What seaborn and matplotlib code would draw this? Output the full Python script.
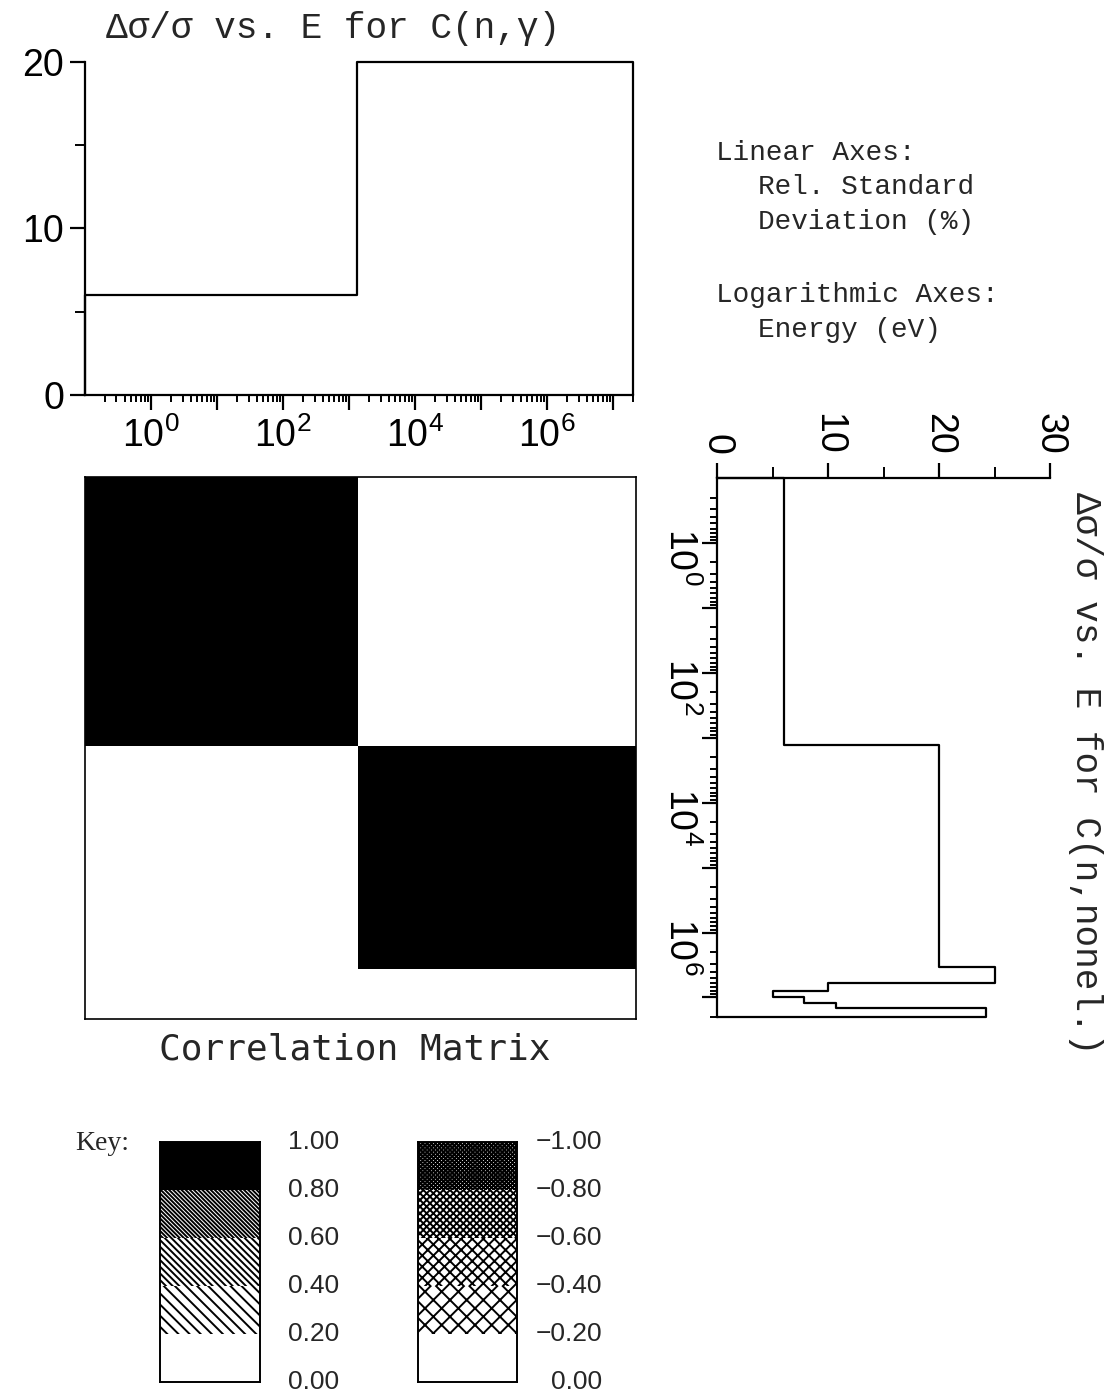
import numpy as np
import matplotlib
matplotlib.use("Agg")
import matplotlib.pyplot as plt
import matplotlib.ticker as mticker
from matplotlib.patches import Rectangle
import seaborn as sns

# ---------------------------------------------------------------------------
# Group structures (eV) and relative standard deviations (%)
# ---------------------------------------------------------------------------
ngam_edges = [0.1, 1.3e3, 2.0e7]
ngam_rsd = [6.0, 20.0]

nonel_edges = [0.1, 1.3e3, 3.4e6, 6.0e6, 8.0e6, 1.0e7, 1.2e7, 1.45e7, 2.0e7]
nonel_rsd = [6.0, 20.0, 25.0, 10.0, 5.0, 7.8, 10.7, 24.2]

# Correlation: rows = C(n,nonel.) groups, columns = C(n,gamma) groups
corr = [
    [1.0, 0.0],
    [0.0, 1.0],
    [0.0, 0.0],
    [0.0, 0.0],
    [0.0, 0.0],
    [0.0, 0.0],
    [0.0, 0.0],
    [0.0, 0.0],
]

# Shading key
key_levels = [0.0, 0.2, 0.4, 0.6, 0.8, 1.0]
pos_labels = ["0.00", "0.20", "0.40", "0.60", "0.80", "1.00"]
neg_labels = ["0.00", "\u22120.20", "\u22120.40", "\u22120.60", "\u22120.80", "\u22121.00"]

pos_styles = [("white", None), ("white", "\\" * 3), ("white", "\\" * 5),
              ("white", "\\" * 8), ("black", None)]
neg_styles = [("white", None), ("white", "xx"), ("white", "xxx"),
              ("white", "x" * 5), ("white", "x" * 8)]

sns.set_theme(style="ticks")
plt.rcParams.update({
    "font.family": ["Liberation Sans", "DejaVu Sans"],
    "mathtext.default": "regular",
    "hatch.linewidth": 1.4,
    "axes.linewidth": 1.6,
    "xtick.color": "black",
    "ytick.color": "black",
    "axes.edgecolor": "black",
})

W, H = 1113, 1397
fig = plt.figure(figsize=(W / 100, H / 100), dpi=100)
fig.patch.set_facecolor("white")


def box(l, t, r, b):
    return [l / W, 1 - b / H, (r - l) / W, (b - t) / H]


def outline(edges, vals):
    e = np.repeat(np.asarray(edges, float), 2)
    v = np.concatenate([[0.0], np.repeat(np.asarray(vals, float), 2), [0.0]])
    return e, v


def band_style(r):
    idx = min(int(abs(r) / 0.2 + 1e-9), 4)
    return pos_styles[idx] if r >= 0 else neg_styles[idx]


def log_label(x, pos):
    k = int(round(np.log10(x)))
    return r"$\mathdefault{10^{%d}}$" % k if k % 2 == 0 else ""


e_min, e_max = ngam_edges[0], ngam_edges[-1]
majors = [10.0 ** k for k in range(0, 8)]
minors = [m * 10.0 ** k for k in range(-1, 8) for m in range(2, 10)
          if m * 10.0 ** k <= e_max * 1.0001]

mono = ["Liberation Mono", "DejaVu Sans Mono"]
TICK_FS = 27

# ---------------------------------------------------------------------------
# Top: C(n,gamma)
# ---------------------------------------------------------------------------
ax_t = fig.add_axes(box(85, 62, 633, 395))
x, y = outline(ngam_edges, ngam_rsd)
sns.lineplot(x=x, y=y, sort=False, estimator=None, color="black",
             linewidth=1.6, clip_on=False, ax=ax_t)
ax_t.set_xscale("log")
ax_t.set_xlim(e_min, e_max)
ax_t.set_ylim(0, 20)
for s in ("top", "right"):
    ax_t.spines[s].set_visible(False)
ax_t.xaxis.set_major_locator(mticker.FixedLocator(majors))
ax_t.xaxis.set_minor_locator(mticker.FixedLocator(minors))
ax_t.xaxis.set_major_formatter(mticker.FuncFormatter(log_label))
ax_t.xaxis.set_minor_formatter(mticker.NullFormatter())
ax_t.yaxis.set_major_locator(mticker.FixedLocator([0, 10, 20]))
ax_t.yaxis.set_minor_locator(mticker.FixedLocator([5, 15]))
ax_t.tick_params(axis="x", which="major", length=11, width=1.6, pad=5,
                 labelsize=TICK_FS, direction="out")
ax_t.tick_params(axis="x", which="minor", length=5, width=1.4, direction="out")
ax_t.tick_params(axis="y", which="major", length=11, width=1.6, pad=4,
                 labelsize=TICK_FS, direction="out")
ax_t.tick_params(axis="y", which="minor", length=7, width=1.4, direction="out")
ax_t.set_xlabel("")
ax_t.set_ylabel("")
fig.text(333 / W, 1 - 28 / H, "\u0394\u03c3/\u03c3 vs. E for C(n,\u03b3)",
         family=mono, fontsize=26, ha="center", va="center")

# ---------------------------------------------------------------------------
# Middle: correlation matrix
# ---------------------------------------------------------------------------
ax_m = fig.add_axes(box(85, 477, 636, 1019))
ax_m.set_xscale("log")
ax_m.set_yscale("log")
ax_m.set_xlim(e_min, e_max)
ax_m.set_ylim(e_max, e_min)
for i, row in enumerate(corr):
    for j, r in enumerate(row):
        fc, hatch = band_style(r)
        x0, x1 = ngam_edges[j], ngam_edges[j + 1]
        y0, y1 = nonel_edges[i], nonel_edges[i + 1]
        ax_m.add_patch(Rectangle((x0, y0), x1 - x0, y1 - y0, facecolor=fc,
                                 edgecolor="black", hatch=hatch, linewidth=0))
ax_m.set_xticks([])
ax_m.set_yticks([])
ax_m.minorticks_off()
for s in ax_m.spines.values():
    s.set_linewidth(1.2)
fig.text(355 / W, 1 - 1050 / H, "Correlation Matrix",
         family=["DejaVu Sans Mono"], fontsize=26, ha="center", va="center")

# ---------------------------------------------------------------------------
# Right: C(n,nonel.) (rotated)
# ---------------------------------------------------------------------------
ax_r = fig.add_axes(box(717, 478, 1050, 1017))
x, y = outline(nonel_edges, nonel_rsd)
sns.lineplot(x=y, y=x, sort=False, estimator=None, color="black",
             linewidth=1.6, clip_on=False, ax=ax_r)
ax_r.set_yscale("log")
ax_r.set_ylim(e_max, e_min)
ax_r.set_xlim(0, 30)
for s in ("bottom", "right"):
    ax_r.spines[s].set_visible(False)
ax_r.xaxis.tick_top()
ax_r.xaxis.set_major_locator(mticker.FixedLocator([0, 10, 20, 30]))
ax_r.xaxis.set_minor_locator(mticker.FixedLocator([5, 15, 25]))
ax_r.yaxis.set_major_locator(mticker.FixedLocator(majors))
ax_r.yaxis.set_minor_locator(mticker.FixedLocator(minors))
ax_r.yaxis.set_major_formatter(mticker.FuncFormatter(log_label))
ax_r.yaxis.set_minor_formatter(mticker.NullFormatter())
ax_r.tick_params(axis="x", which="major", length=11, width=1.6, pad=6,
                 labelsize=TICK_FS, labelrotation=-90, direction="out",
                 top=True, bottom=False, labeltop=True, labelbottom=False)
ax_r.tick_params(axis="x", which="minor", length=8, width=1.4,
                 direction="out", top=True, bottom=False)
ax_r.tick_params(axis="y", which="major", length=11, width=1.6, pad=2,
                 labelsize=TICK_FS, labelrotation=-90, direction="out")
ax_r.tick_params(axis="y", which="minor", length=5, width=1.4, direction="out")
ax_r.set_xlabel("")
ax_r.set_ylabel("")
fig.text(1085 / W, 1 - 773 / H, "\u0394\u03c3/\u03c3 vs. E for C(n,nonel.)",
         family=mono, fontsize=26, rotation=-90, ha="center", va="center")

# ---------------------------------------------------------------------------
# Axis notes
# ---------------------------------------------------------------------------
notes = [(716, 153, "Linear Axes:"), (758, 187, "Rel. Standard"),
         (758, 222, "Deviation (%)"), (716, 295, "Logarithmic Axes:"),
         (758, 330, "Energy (eV)")]
for nx, ny, txt in notes:
    fig.text(nx / W, 1 - ny / H, txt, family=mono, fontsize=20,
             ha="left", va="center")

# ---------------------------------------------------------------------------
# Key
# ---------------------------------------------------------------------------
fig.text(75 / W, 1 - 1143 / H, "Key:", family=["Liberation Serif"],
         fontsize=20, ha="left", va="center")


def draw_key(rect, styles, labels, label_x):
    ax = fig.add_axes(rect)
    lv = np.asarray(key_levels)
    heights = np.diff(lv)
    for k, (b, h) in enumerate(zip(lv[:-1], heights)):
        fc, hatch = styles[k]
        ax.bar(0.5, h, bottom=b, width=1.0, color=fc, edgecolor="black",
               hatch=hatch, linewidth=0)
    ax.set_xlim(0, 1)
    ax.set_ylim(0, 1)
    ax.set_xticks([])
    ax.set_yticks([])
    for s in ax.spines.values():
        s.set_linewidth(1.4)
    for v, lab in zip(key_levels, labels):
        ax.text(label_x, v, lab, transform=ax.get_yaxis_transform(),
                ha="right", va="center", fontsize=19, clip_on=False)
    return ax


draw_key(box(160, 1142, 260, 1382), pos_styles, pos_labels, 1.79)
draw_key(box(418, 1142, 517, 1382), neg_styles, neg_labels, 1.86)

fig.savefig("out.png", dpi=100, facecolor="white")
